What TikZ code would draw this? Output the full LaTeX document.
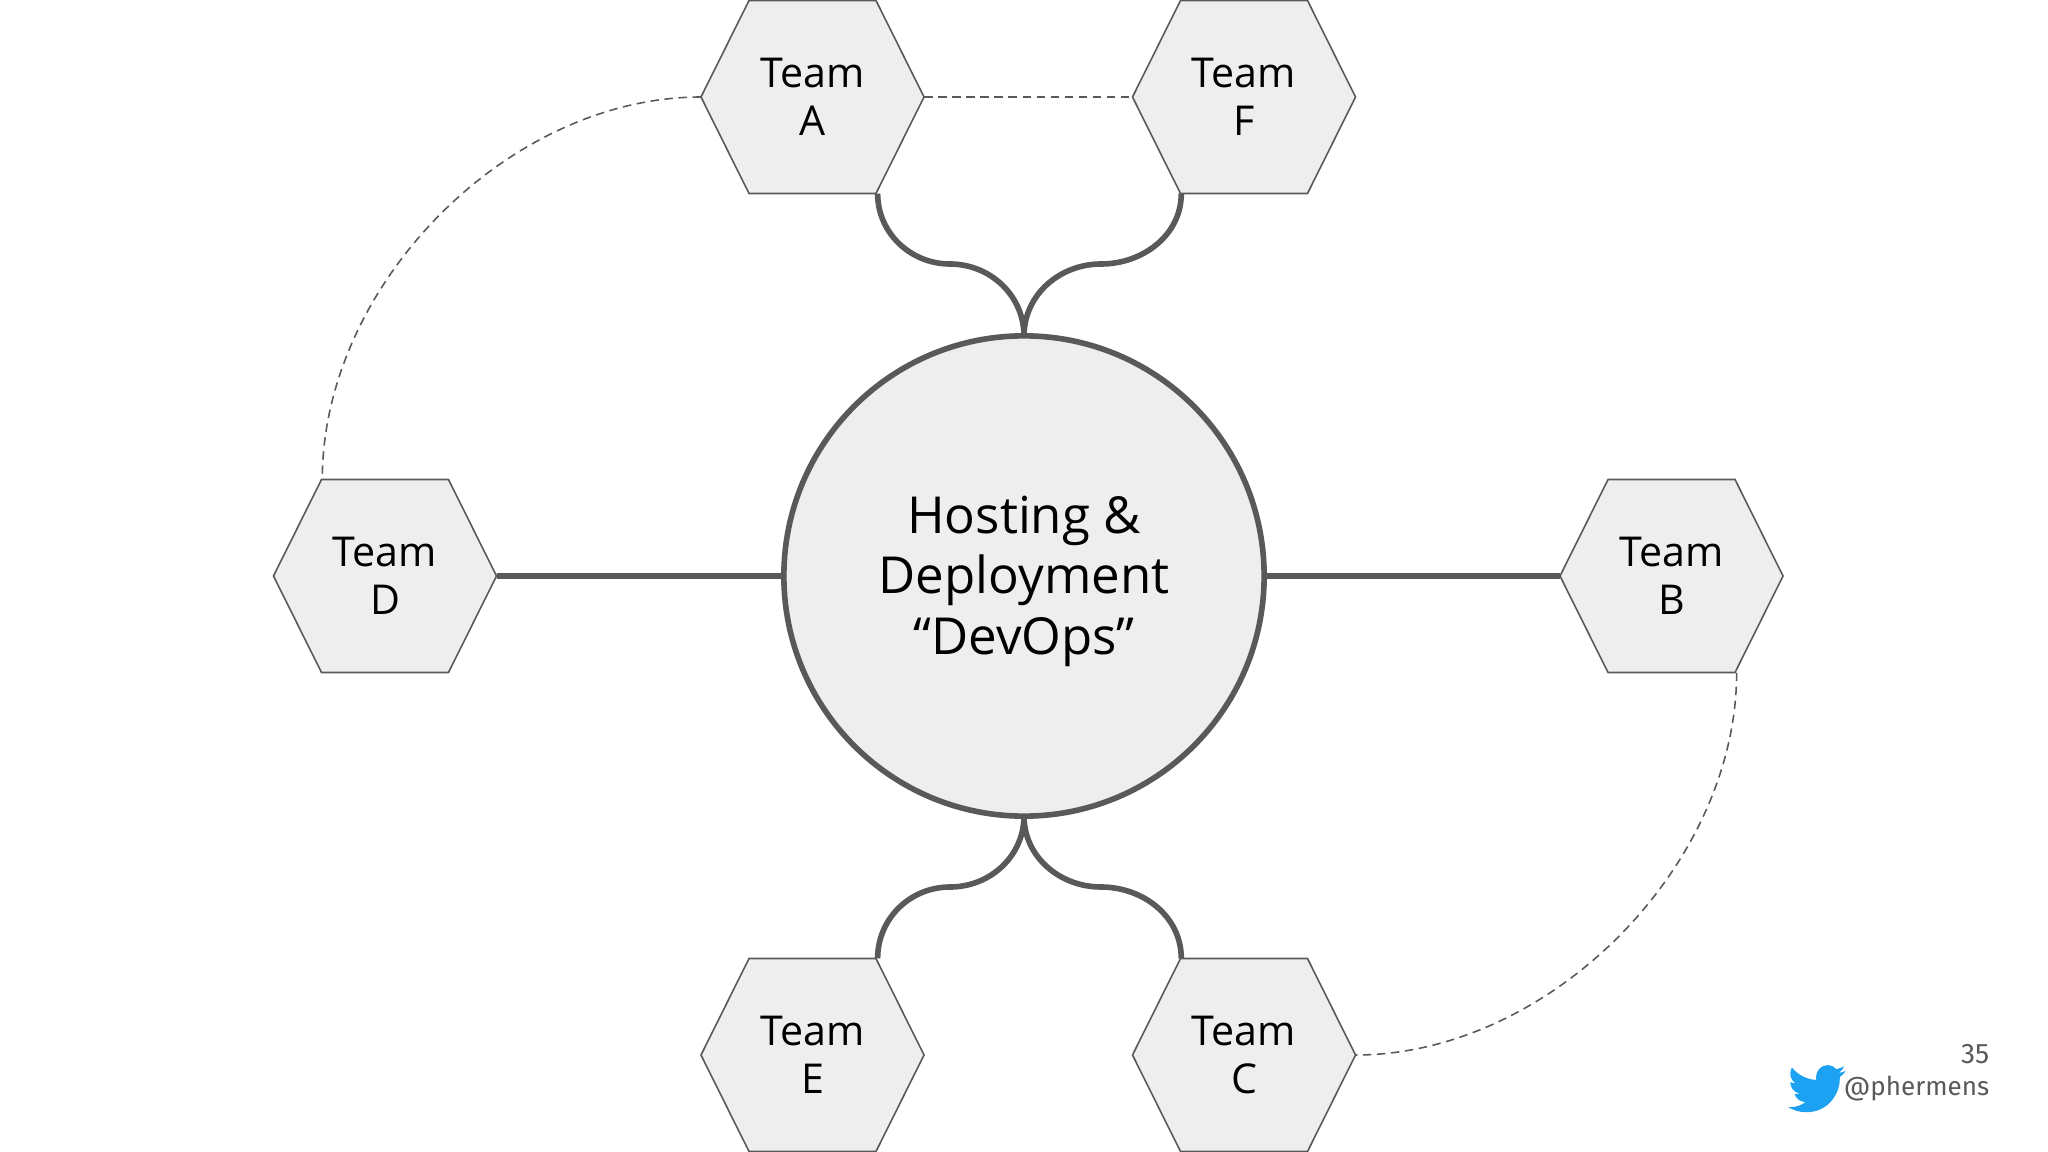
\documentclass[tikz,border=0pt]{standalone}
\usepackage{fontspec}
\setmainfont{Open Sans}
\newfontfamily\cornerfont{Fira Sans}
\definecolor{linegray}{HTML}{595959}
\definecolor{fillgray}{HTML}{EEEEEE}
\definecolor{birdblue}{HTML}{1DA1F2}
\tikzset{
	hexagon/.style={draw=linegray,line width=0.45pt,fill=fillgray},
	team/.style={rectangle,minimum width=2.23cm,minimum height=1.93cm,inner sep=0pt,outer sep=0pt,align=center,font=\fontsize{11.7}{13.55}\selectfont},
	hub/.style={circle,minimum size=4.8cm,inner sep=0pt,draw=linegray,line width=1.6pt,fill=fillgray,align=center,font=\fontsize{14.5}{17.2}\selectfont},
	thick link/.style={draw=linegray,line width=1.6pt},
	thin link/.style={draw=linegray,line width=0.45pt,dash pattern=on 2.4pt off 1.6pt},
	corner/.style={text=linegray,anchor=east,inner sep=0pt,font=\cornerfont\fontsize{7.4}{8}\selectfont}
}
% hexagon with its text: name, centre, letter
\newcommand{\teamhex}[3]{
	\draw[hexagon,shift={(#2)}] (-111.5,0)--(-63.5,-96.5)--(63.5,-96.5)--(111.5,0)--(63.5,96.5)--(-63.5,96.5)--cycle;
	\node[team] (#1) at (#2) {Team\\#3};
}

\begin{document}
\begin{tikzpicture}[x=0.01cm,y=-0.01cm]
	\useasboundingbox (0,0) rectangle (2048,1152);
	\coordinate (hubtop) at (1024,336);
	\coordinate (hubbottom) at (1024,816);
	\coordinate (midA) at (950,264);
	\coordinate (midF) at (1101,264);
	\coordinate (midE) at (950,887);
	\coordinate (midC) at (1101,887);
	\teamhex{teamA}{812.5,97}{A}
	\teamhex{teamF}{1244,97}{F}
	\teamhex{teamD}{385,576}{D}
	\teamhex{teamB}{1671.5,576}{B}
	\teamhex{teamE}{812.5,1055}{E}
	\teamhex{teamC}{1244,1055}{C}
	\node[hub] (hub) at (1024,576) {\rule{0pt}{0.48cm}Hosting \&\\Deployment\\“DevOps”};
	\draw[thick link] (teamD.0)--(hub.180);
	\draw[thick link] (hub.0)--(teamB.180);
	\draw[thick link] (teamA.-56.6) to[out=-90,in=180] (midA) to[out=0,in=90] (hubtop);
	\draw[thick link] (teamF.-123.4) to[out=-90,in=0] (midF) to[out=180,in=90] (hubtop);
	\draw[thick link] (teamE.56.6) to[out=90,in=180] (midE) to[out=0,in=-90] (hubbottom);
	\draw[thick link] (teamC.123.4) to[out=90,in=0] (midC) to[out=180,in=-90] (hubbottom);
	\draw[thin link] (teamA.0)--(teamF.180);
	\draw[thin link] (teamA.180) to[out=180,in=90,looseness=0.92] (teamD.123.4);
	\draw[thin link] (teamB.-56.6) to[out=-90,in=0,looseness=0.92] (teamC.0);
	% corner of the slide
	\node[corner,font=\cornerfont\fontsize{8}{8}\selectfont] (slidenumber) at (1990,1054) {35};
	\node[corner] (handle) at (1990,1089) {@phermens};
	\fill[birdblue,shift={(1788,1060)},x=0.024cm,y=-0.024cm]
		(23.95,4.57) .. controls (23.05,4.97) and (22.1,5.23) .. (21.13,5.345)
		.. controls (22.15,4.73) and (22.93,3.76) .. (23.29,2.62)
		.. controls (22.34,3.18) and (21.29,3.58) .. (20.16,3.81)
		.. controls (19.26,2.81) and (17.99,2.1) .. (16.6,2.1)
		.. controls (13.9,2.1) and (11.68,4.3) .. (11.68,7.02)
		.. controls (11.68,7.44) and (11.73,7.87) .. (11.78,8.29)
		.. controls (7.69,8.1) and (4.07,6.13) .. (1.64,3.16)
		.. controls (1.22,3.88) and (0.97,4.72) .. (0.97,5.64)
		.. controls (0.97,7.35) and (1.84,8.85) .. (3.16,9.73)
		.. controls (2.35,9.71) and (1.58,9.49) .. (0.93,9.12)
		-- (0.93,9.18)
		.. controls (0.93,11.55) and (2.63,13.55) .. (4.88,14)
		.. controls (4.16,14.2) and (3.4,14.23) .. (2.67,14.09)
		.. controls (3.3,16.05) and (5.12,17.46) .. (7.27,17.51)
		.. controls (5.6,18.82) and (3.46,19.61) .. (1.17,19.61)
		.. controls (0.78,19.61) and (0.39,19.59) .. (0,19.54)
		.. controls (2.18,20.94) and (4.77,21.75) .. (7.56,21.75)
		.. controls (16.61,21.75) and (21.56,14.26) .. (21.56,7.77)
		.. controls (21.56,7.56) and (21.56,7.35) .. (21.54,7.14)
		.. controls (22.5,6.44) and (23.33,5.57) .. (24,4.59) -- cycle;
\end{tikzpicture}
\end{document}
